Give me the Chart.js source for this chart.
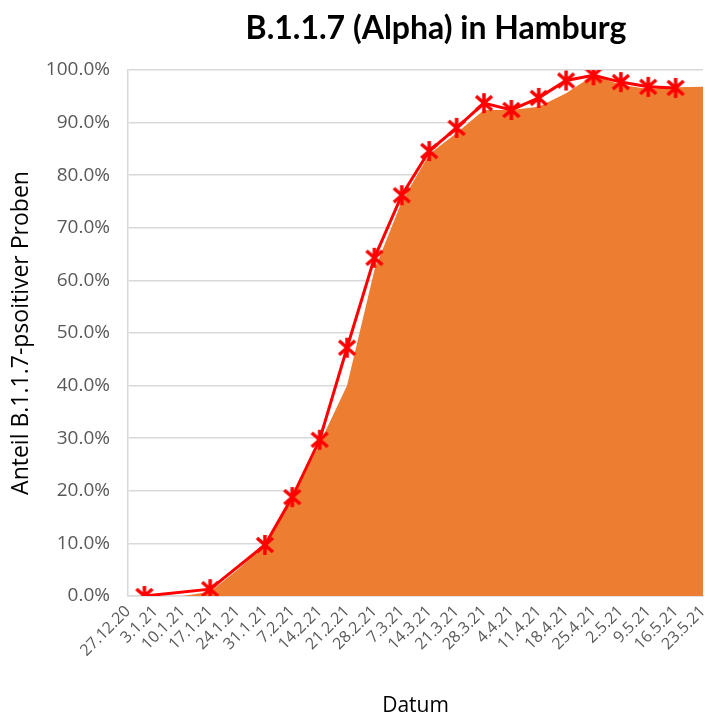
<!DOCTYPE html>
<html>
<head>
<meta charset="utf-8">
<script src="https://cdn.jsdelivr.net/npm/chart.js@4"></script>
<style>
  html, body { margin: 0; padding: 0; background: #fff; }
  #wrap { width: 708px; height: 715px; }
</style>
</head>
<body>
<div id="wrap"><canvas id="alphaChart" width="708" height="715"></canvas></div>
<script>
// week labels (Sundays)
const dateLabels = ['27.12.20', '3.1.21', '10.1.21', '17.1.21', '24.1.21', '31.1.21', '7.2.21', '14.2.21',
  '21.2.21', '28.2.21', '7.3.21', '14.3.21', '21.3.21', '28.3.21', '4.4.21', '11.4.21', '18.4.21',
  '25.4.21', '2.5.21', '9.5.21', '16.5.21', '23.5.21'];

// orange area, one value per week label (%)
const areaShare = [0, 0, 0, 0.8, 5, 9.5, 18.5, 29, 40, 62, 75, 84, 88, 92.4, 92.4, 93, 95.6, 99, 97.2, 96.4, 96.7, 96.8];

// red line, position in weeks from 27.12.20 and share (%)
const lineWeeks = [0.6, 3, 5, 6, 7, 8, 9, 10, 11, 12, 13, 14, 15, 16, 17, 18, 19, 20];
const lineShare = [0, 1.3, 9.7, 18.8, 29.7, 47.2, 64.3, 76.2, 84.6, 89, 93.7, 92.4, 94.7, 98, 99, 97.7, 96.8, 96.6];

const yTicks = [0, 10, 20, 30, 40, 50, 60, 70, 80, 90, 100];

// excel-like star marker (x with vertical bar)
function makeStar() {
  const c = document.createElement('canvas');
  c.width = 22; c.height = 22;
  const g = c.getContext('2d');
  g.strokeStyle = '#ff0000';
  g.lineWidth = 3.5;
  g.beginPath();
  g.moveTo(3, 4); g.lineTo(19, 18);
  g.moveTo(19, 4); g.lineTo(3, 18);
  g.moveTo(11, 1); g.lineTo(11, 21);
  g.stroke();
  return c;
}
const star = makeStar();

// title centred like in the original sheet
const titlePlugin = {
  id: 'sheetTitle',
  afterDraw(chart) {
    const ctx = chart.ctx;
    ctx.save();
    ctx.font = 'bold 32px Lato';
    ctx.fillStyle = '#000';
    ctx.textAlign = 'center';
    ctx.textBaseline = 'middle';
    ctx.fillText('B.1.1.7 (Alpha) in Hamburg', 436, 29);
    ctx.restore();
  }
};

new Chart(document.getElementById('alphaChart'), {
  type: 'line',
  data: {
    datasets: [
      {
        label: 'Linie',
        data: lineWeeks.map((w, i) => ({ x: w, y: lineShare[i] })),
        borderColor: '#ff0000',
        borderWidth: 3,
        pointStyle: star,
        pointRadius: 10,
        fill: false,
        tension: 0
      },
      {
        label: 'Anteil',
        data: areaShare.map((v, i) => ({ x: i, y: v })),
        backgroundColor: '#ed7d31',
        borderWidth: 0,
        pointRadius: 0,
        fill: 'origin',
        tension: 0
      }
    ]
  },
  options: {
    responsive: false,
    animation: false,
    layout: { autoPadding: false, padding: { top: 70, right: 5, bottom: 0, left: 0 } },
    plugins: {
      legend: { display: false },
      tooltip: { enabled: false }
    },
    scales: {
      x: {
        type: 'linear',
        min: 0,
        max: dateLabels.length - 1,
        afterBuildTicks: (s) => { s.ticks = dateLabels.map((_, i) => ({ value: i })); },
        afterFit: (s) => { s.height = 119; s.paddingLeft = 0; s.paddingRight = 0; },
        grid: { display: false, drawTicks: false },
        border: { display: true, color: '#d9d9d9', width: 1.5 },
        ticks: {
          autoSkip: false,
          minRotation: 45,
          maxRotation: 45,
          padding: 6,
          color: '#595959',
          font: { family: 'Open Sans', size: 16 },
          callback: (v) => dateLabels[v]
        },
        title: {
          display: true,
          text: 'Datum',
          color: '#000',
          font: { family: 'Open Sans', size: 21, lineHeight: 1 },
          padding: { top: 0, bottom: -2 }
        }
      },
      y: {
        min: 0,
        max: 100,
        afterBuildTicks: (s) => { s.ticks = yTicks.map(v => ({ value: v })); },
        afterFit: (s) => { s.width = 128; },
        grid: { color: '#d9d9d9', lineWidth: 1.5, drawTicks: false },
        border: { display: true, color: '#d9d9d9', width: 1.5 },
        ticks: {
          padding: 18,
          color: '#595959',
          font: { family: 'Open Sans', size: 19 },
          callback: (v) => v.toFixed(1) + '%'
        },
        title: {
          display: true,
          text: 'Anteil B.1.1.7-psoitiver Proben',
          color: '#000',
          font: { family: 'Open Sans', size: 23, lineHeight: 1.2 },
          padding: { top: 8, bottom: 0 }
        }
      }
    }
  },
  plugins: [titlePlugin]
});
</script>
</body>
</html>
